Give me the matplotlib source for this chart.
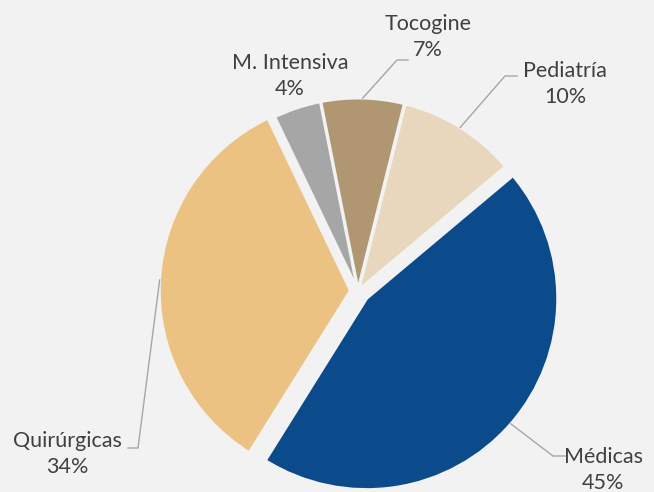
import numpy as np
import matplotlib.pyplot as plt

# Data
categorias = ["Médicas", "Quirúrgicas", "M. Intensiva", "Tocogine", "Pediatría"]
porcentajes = [45, 34, 4, 7, 10]
colores = ["#0B4A8B", "#ECC283", "#A6A6A6", "#B09772", "#E8D6BD"]
separacion = [0.06, 0.04, 0.01, 0.01, 0.01]

bg = "#F2F2F2"
texto = "#404040"
linea = "#A6A6A6"

fig = plt.figure(figsize=(6.54, 4.92), dpi=100, facecolor=bg)
ax = fig.add_axes([0, 0, 1, 1])
ax.set_facecolor(bg)

wedges, _ = ax.pie(porcentajes, colors=colores, explode=separacion,
                   startangle=40, counterclock=False, radius=1,
                   wedgeprops=dict(edgecolor=bg, linewidth=2))

# centro del pie y radio en pixeles
cx, cy, r = 358, 291, 191
ax.set_xlim(-cx / r, (654 - cx) / r)
ax.set_ylim(-(492 - cy) / r, cy / r)
ax.set_aspect("equal")
ax.axis("off")

# posicion de etiquetas (px) y codo de la linea guia
etiquetas_px = {
    "Médicas": (603, 470, (553, 456), (565, 456)),
    "Quirúrgicas": (67, 454, (138, 448), (128, 448)),
    "M. Intensiva": (290, 76, None, None),
    "Tocogine": (428, 37, (397, 60), (408, 60)),
    "Pediatría": (565, 84, (505, 76), (517, 76)),
}

def px2d(p):
    return ((p[0] - cx) / r, (cy - p[1]) / r)

for w, cat, pct in zip(wedges, categorias, porcentajes):
    tx, ty, codo, fin = etiquetas_px[cat]
    x, y = px2d((tx, ty))
    ax.text(x, y, f"{cat}\n{pct}%", ha="center", va="center", fontsize=15.5,
            color=texto, family="Lato", linespacing=1.35)
    if codo is not None:
        ang = np.deg2rad((w.theta1 + w.theta2) / 2)
        x0 = w.center[0] + w.r * np.cos(ang)
        y0 = w.center[1] + w.r * np.sin(ang)
        x1, y1 = px2d(codo)
        x2, y2 = px2d(fin)
        ax.plot([x0, x1, x2], [y0, y1, y2], color=linea, lw=1)

fig.savefig("out.png", dpi=100, facecolor=bg)
